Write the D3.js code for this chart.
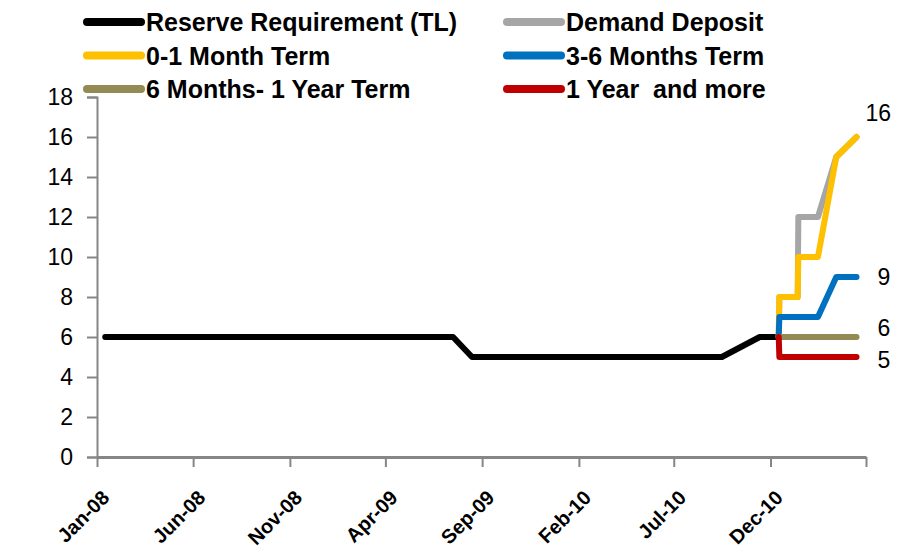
<!DOCTYPE html>
<html lang="en">
<head>
    <meta charset="UTF-8">
    <title>Reserve Requirements</title>
    <script src="https://cdnjs.cloudflare.com/ajax/libs/d3/7.8.5/d3.min.js"></script>
    <style>
        body { margin: 0; background: #fff; }
        text { font-family: "Liberation Sans", Arial, sans-serif; }
    </style>
</head>
<body>
<svg id="chart" width="900" height="558"></svg>

<script>

// black line: reserve requirement before the split by maturity
var rrDates  = ["2008-01-14", "2009-07-17", "2009-08-16", "2010-09-15", "2010-11-14", "2010-12-14"];
var rrValues = [6, 6, 5, 5, 6, 6];

// after Dec-10 the ratio depends on the deposit type
var termDates      = ["2010-12-14", "2010-12-15", "2011-01-13", "2011-01-14", "2011-02-14", "2011-03-15", "2011-04-16"];
var demandDeposit  = [6, 8, 8, 12, 12, 15, 16];
var month0to1      = [6, 8, 8, 10, 10, 15, 16];
var months3to6     = [6, 7, 7, 7, 7, 9, 9];
var months6to12    = [6, 6, 6, 6, 6, 6, 6];
var yearAndMore    = [6, 5, 5, 5, 5, 5, 5];

var seriesNames  = ["Reserve Requirement (TL)", "Demand Deposit", "0-1 Month Term",
                    "3-6 Months Term", "6 Months- 1 Year Term", "1 Year  and more"];
var seriesColors = ["#000000", "#a6a6a6", "#ffc000", "#0070c0", "#948a54", "#c00000"];

var endLabels = ["16", "9", "6", "5"];

var tickDates  = ["2008-01-01", "2008-06-01", "2008-11-01", "2009-04-01", "2009-09-01",
                  "2010-02-01", "2010-07-01", "2010-12-01", "2011-05-01"];
var tickLabels = ["Jan-08", "Jun-08", "Nov-08", "Apr-09", "Sep-09", "Feb-10", "Jul-10", "Dec-10", ""];
var yTicks = [0, 2, 4, 6, 8, 10, 12, 14, 16, 18];

var parse = d3.timeParse("%Y-%m-%d");

var margin = {top: 97, left: 97},
    width  = 866 - 97,
    height = 457 - 97;

var xScale = d3.scaleTime()
    .domain([parse("2008-01-01"), parse("2011-05-01")])
    .range([0, width]);
var yScale = d3.scaleLinear().domain([0, 18]).range([height, 0]);

var svg = d3.select("#chart");
var g = svg.append("g").attr("transform", "translate(" + margin.left + "," + margin.top + ")");

// axes
var yAxis = d3.axisLeft(yScale).tickValues(yTicks).tickSize(10).tickPadding(14);
var yAxisG = g.append("g").call(yAxis);
yAxisG.select(".domain").attr("stroke", "#868686").attr("stroke-width", 2);
yAxisG.selectAll(".tick line").attr("stroke", "#868686").attr("stroke-width", 2);
yAxisG.selectAll("text").style("font-size", "23px").attr("fill", "#000");

var xAxis = d3.axisBottom(xScale)
    .tickValues(tickDates.map(parse))
    .tickSize(10)
    .tickSizeOuter(0)
    .tickFormat((d, i) => tickLabels[i]);

var xAxisG = g.append("g").attr("transform", "translate(0," + height + ")").call(xAxis);
xAxisG.select(".domain").attr("stroke", "#868686").attr("stroke-width", 3);
xAxisG.selectAll(".tick line").attr("stroke", "#868686").attr("stroke-width", 2);
xAxisG.selectAll("text")
    .attr("y", 0).attr("dy", 0)
    .attr("transform", "translate(13,42) rotate(-45)")
    .style("text-anchor", "end")
    .style("font-size", "20px")
    .style("font-weight", "bold")
    .attr("fill", "#000");

// lines
var line = d3.line()
    .x(d => xScale(d.date))
    .y(d => yScale(d.value));

var allSeries = [
    rrDates.map((d, i) => ({date: parse(d), value: rrValues[i]})),
    termDates.map((d, i) => ({date: parse(d), value: demandDeposit[i]})),
    termDates.map((d, i) => ({date: parse(d), value: month0to1[i]})),
    termDates.map((d, i) => ({date: parse(d), value: months3to6[i]})),
    termDates.map((d, i) => ({date: parse(d), value: months6to12[i]})),
    termDates.map((d, i) => ({date: parse(d), value: yearAndMore[i]}))
];

g.selectAll(".series")
    .data(allSeries)
    .enter()
    .append("path")
    .attr("class", "series")
    .attr("d", d => line(d))
    .attr("fill", "none")
    .attr("stroke", (d, i) => seriesColors[i])
    .attr("stroke-width", 6)
    .attr("stroke-linejoin", "round")
    .attr("stroke-linecap", "round");

// labels at the right end
var lastDate = parse(termDates[termDates.length - 1]);
var endValues = [month0to1[month0to1.length - 1], months3to6[months3to6.length - 1],
                 months6to12[months6to12.length - 1], yearAndMore[yearAndMore.length - 1]];
var labelShift = [[9, -24], [21, 0], [21, -9], [21, 3]];

g.selectAll(".endLabel")
    .data(endLabels)
    .enter()
    .append("text")
    .attr("x", (d, i) => xScale(lastDate) + labelShift[i][0])
    .attr("y", (d, i) => yScale(endValues[i]) + labelShift[i][1])
    .attr("dy", "0.36em")
    .style("font-size", "23px")
    .text(d => d);

// legend, two columns
var legend = svg.append("g");
var legendItem = legend.selectAll(".item")
    .data(seriesNames)
    .enter()
    .append("g")
    .attr("transform", (d, i) => "translate(" + (i % 2 === 0 ? 87 : 507) + "," + (22 + Math.floor(i / 2) * 33.5) + ")");

legendItem.append("line")
    .attr("x1", 0).attr("x2", 54)
    .attr("stroke", (d, i) => seriesColors[i])
    .attr("stroke-width", 8)
    .attr("stroke-linecap", "round");

legendItem.append("text")
    .attr("x", 59)
    .attr("dy", "0.36em")
    .style("font-size", "25px")
    .style("font-weight", "bold")
    .style("white-space", "pre")
    .text(d => d);

</script>
</body>
</html>
